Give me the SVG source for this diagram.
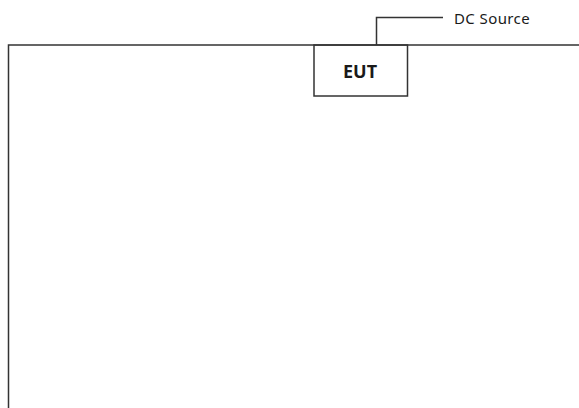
<svg xmlns="http://www.w3.org/2000/svg" width="579" height="408" viewBox="0 0 579 408">
<style>
.ln{fill:none;stroke:#333;stroke-width:1.5}
.t{font-family:"Noto Sans","Open Sans",sans-serif;fill:#1a1a1a}
</style>
<rect width="579" height="408" fill="#fff"/>
<g id="connectors">
<path class="ln" d="M8.5,408 V45 H579"/>
<path class="ln" d="M376.5,45 V17.5 H443"/>
</g>
<g id="eut">
<rect class="ln" x="314" y="45" width="93.5" height="51" fill="#fff"/>
<text class="t" x="360" y="77.5" text-anchor="middle" font-size="18" font-weight="bold">EUT</text>
</g>
<g id="dc-source">
<text class="t" x="454" y="23.5" font-size="15" letter-spacing="0.4">DC Source</text>
</g>
</svg>
